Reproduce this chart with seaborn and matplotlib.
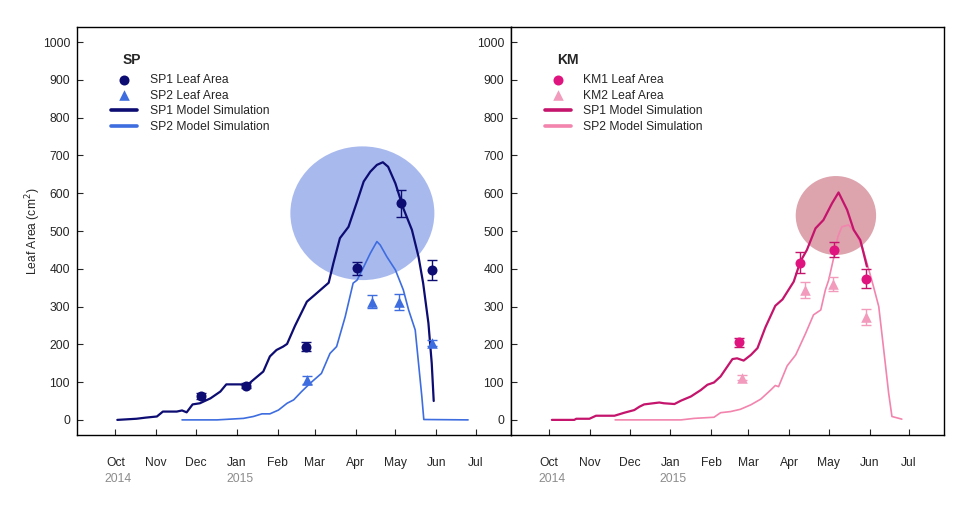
import matplotlib
matplotlib.use('Agg')
import matplotlib.pyplot as plt
from matplotlib.patches import Ellipse
import seaborn as sns
import pandas as pd

sns.set_style('ticks')
plt.rcParams['font.family'] = ['Liberation Sans', 'DejaVu Sans']
plt.rcParams['font.size'] = 8.5

# ── Data (x = days since 1 Oct 2014) ─────────────────────────────────────────
START = pd.Timestamp('2014-10-01')
month_starts = pd.date_range('2014-10-01', '2015-07-01', freq='MS')
month_days = [(d - START).days for d in month_starts]
month_labels = ['Oct', 'Nov', 'Dec', 'Jan', 'Feb', 'Mar', 'Apr', 'May', 'Jun', 'Jul']
year_labels = {'Oct': '2014', 'Jan': '2015'}

# SP observations
sp1_obs_day = [65, 99, 144, 183, 216, 240]
sp1_obs_val = [64, 91, 194, 401, 573, 396]
sp1_obs_err = [8, 6, 12, 18, 35, 27]
sp2_obs_day = [145, 194, 215, 240]
sp2_obs_val = [106, 313, 312, 203]
sp2_obs_err = [10, 18, 20, 8]

# SP model simulations
sp1_mod_day = [1.5, 16, 23, 31.5, 36, 46.5, 50.5, 54, 58.5, 64, 72, 79.5, 84, 94.5,
               99.5, 104.5, 112, 117, 122, 127, 130, 136, 145, 151, 161.5, 165,
               170, 176.5, 183, 188, 193, 198, 202.5, 206.5, 212, 218, 224.5,
               229.5, 233, 237, 239.5, 241]
sp1_mod_val = [0, 3, 6, 9, 22, 22, 25, 20, 41, 44, 57, 75, 94, 94,
               91, 106, 128, 168, 185, 194, 201, 249, 313, 331, 363, 414,
               481, 511, 578, 631, 657, 675, 682, 670, 626, 560, 503,
               432, 362, 256, 150, 50]
sp2_mod_day = [50.5, 77, 97, 104.5, 111, 117, 123.5, 130, 135, 141, 147.5, 156,
               162.5, 167.5, 174, 180, 183, 188, 193, 198, 200.5, 205.5, 212,
               218, 222, 227, 229.5, 232, 233.5, 267]
sp2_mod_val = [0, 0, 4, 9, 16, 16, 26, 44, 53, 75, 97, 123,
               176, 194, 273, 362, 370, 405, 441, 472, 463, 432, 397,
               344, 291, 238, 150, 62, 1, 0]

# KM observations
km1_obs_day = [144, 190, 216, 240]
km1_obs_val = [205, 416, 451, 374]
km1_obs_err = [12, 28, 21, 26]
km2_obs_day = [146, 194, 215, 240]
km2_obs_val = [112, 344, 360, 272]
km2_obs_err = [7, 21, 18, 21]

# KM model simulations
km1_mod_day = [2, 19, 20.5, 30.5, 35.5, 49.5, 57, 64.5, 68.5, 72, 83.5, 87, 95,
               100, 107.5, 115, 120, 125, 130, 139, 142.5, 147.5, 153, 158, 164,
               171.5, 177, 185.5, 190.5, 195.5, 202, 208, 214.5, 219.5, 226,
               231, 236, 241]
km1_mod_val = [0, 0, 3, 3, 11, 11, 19, 26, 35, 41, 46, 44, 42,
               51, 62, 79, 93, 99, 115, 161, 163, 157, 172, 190, 245,
               302, 319, 366, 419, 450, 507, 529, 573, 602, 556,
               503, 476, 406]
km2_mod_day = [50, 100, 110, 125, 130, 137.5, 145, 153, 160.5, 168, 171.5, 174,
               180.5, 187, 194.5, 200.5, 206, 209.5, 212, 216, 219, 222, 227,
               232, 237.5, 242.5, 246, 250, 253.5, 257.5, 260, 267.5]
km2_mod_val = [0, 0, 4, 7, 19, 22, 28, 40, 55, 79, 91, 88,
               143, 172, 229, 278, 291, 344, 370, 432, 485, 511, 516,
               498, 458, 397, 353, 300, 194, 71, 9, 2]

# Highlight circles: centre day, centre value, width (days), height (value)
sp_circle = (187, 547, 109, 354)
km_circle = (217.5, 541, 61, 209)

# ── Styles ───────────────────────────────────────────────────────────────────
NAVY, BLUE = '#0c0c72', '#3e6de0'
PINK1_M, PINK1_L = '#e0147e', '#c4146c'
PINK2_M, PINK2_L = '#f29bbc', '#f284ad'

fig = plt.figure(figsize=(9.68, 5.12), dpi=100)
W, H = 968, 512
ax1 = fig.add_axes([77 / W, 1 - 435 / H, 434 / W, 408 / H])
ax2 = fig.add_axes([511 / W, 1 - 435 / H, 433 / W, 408 / H])


def draw_panel(ax, title, circle, circ_color,
               o1, o2, m1, m2, c1m, c1l, c2m, c2l, labels):
    cx, cy, cw, ch = circle
    ax.add_patch(Ellipse((cx, cy), cw, ch, facecolor=circ_color,
                         edgecolor='none', zorder=1))

    sns.lineplot(x=m1[0], y=m1[1], ax=ax, color=c1l, lw=1.6,
                 label=labels[2], zorder=3, estimator=None, sort=False)
    sns.lineplot(x=m2[0], y=m2[1], ax=ax, color=c2l, lw=1.2,
                 label=labels[3], zorder=2, estimator=None, sort=False)

    ax.errorbar(o1[0], o1[1], yerr=o1[2], fmt='none', ecolor=c1l,
                elinewidth=1, capsize=3.5, capthick=1, zorder=4)
    ax.errorbar(o2[0], o2[1], yerr=o2[2], fmt='none', ecolor=c2m,
                elinewidth=1, capsize=3.5, capthick=1, zorder=4)
    sns.scatterplot(x=o1[0], y=o1[1], ax=ax, color=c1m, marker='o', s=52,
                    linewidth=0, label=labels[0], zorder=5)
    sns.scatterplot(x=o2[0], y=o2[1], ax=ax, color=c2m, marker='^', s=58,
                    linewidth=0, label=labels[1], zorder=5)

    handles, labs = ax.get_legend_handles_labels()
    order = [labs.index(l) for l in labels]
    leg = ax.legend([handles[i] for i in order], [labs[i] for i in order],
                    loc='upper left', bbox_to_anchor=(0.078, 0.885),
                    frameon=False, borderpad=0, borderaxespad=0,
                    handlelength=2.2, handletextpad=1.0, labelspacing=0.3,
                    fontsize=8.7)
    for ln in leg.get_lines():
        ln.set_linewidth(2.6)
    ax.text(0.106, 0.92, title, transform=ax.transAxes, fontsize=10,
            fontweight='bold', va='center', ha='left')

    ax.set_xlim(-29, 299.5)
    ax.set_ylim(-40, 1040)
    ax.set_yticks(range(0, 1001, 100))
    ax.set_xticks(month_days)
    ax.set_xticklabels(month_labels)
    ax.tick_params(axis='x', direction='in', length=4, pad=15.5, labelsize=8.7)
    ax.tick_params(axis='y', direction='in', length=4, pad=5, labelsize=8.7)
    for lab, d in zip(month_labels, month_days):
        if lab in year_labels:
            ax.annotate(year_labels[lab], xy=(d, 0),
                        xycoords=('data', 'axes fraction'),
                        xytext=(3, -44), textcoords='offset pixels',
                        ha='center', va='center', color='#8c8c8c', fontsize=8.7)
    for sp in ax.spines.values():
        sp.set_visible(True)
        sp.set_linewidth(1.0)
        sp.set_color('black')
    ax.set_xlabel('')
    ax.set_ylabel('')


draw_panel(ax1, 'SP', sp_circle, '#a8b9ee',
           (sp1_obs_day, sp1_obs_val, sp1_obs_err),
           (sp2_obs_day, sp2_obs_val, sp2_obs_err),
           (sp1_mod_day, sp1_mod_val), (sp2_mod_day, sp2_mod_val),
           NAVY, NAVY, BLUE, BLUE,
           ['SP1 Leaf Area', 'SP2 Leaf Area',
            'SP1 Model Simulation', 'SP2 Model Simulation'])

draw_panel(ax2, 'KM', km_circle, '#dda4ae',
           (km1_obs_day, km1_obs_val, km1_obs_err),
           (km2_obs_day, km2_obs_val, km2_obs_err),
           (km1_mod_day, km1_mod_val), (km2_mod_day, km2_mod_val),
           PINK1_M, PINK1_L, PINK2_M, PINK2_L,
           ['KM1 Leaf Area', 'KM2 Leaf Area',
            'SP1 Model Simulation', 'SP2 Model Simulation'])

ax1.set_ylabel('Leaf Area (cm$^2$)', fontsize=8.7, labelpad=0)

fig.savefig('out.png', dpi=100)
